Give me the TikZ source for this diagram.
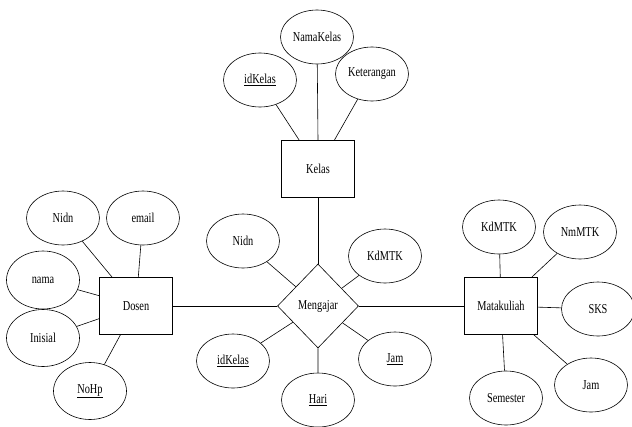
\documentclass[tikz,border=0pt]{standalone}
\usepackage{fontspec}
\setmainfont{Liberation Serif}[FakeStretch=0.76]
\usepackage{tikz}
\usetikzlibrary{shapes.geometric}

\begin{document}
\begin{tikzpicture}[x=1pt, y=-1pt, font=\fontsize{13.6}{15}\selectfont, line width=.6pt,
  entity/.style={draw, minimum width=73pt, minimum height=57pt},
  attrib/.style={draw, ellipse, minimum width=73pt, minimum height=54pt, inner sep=0pt},
  relation/.style={draw, diamond, minimum width=81pt, minimum height=84pt, inner sep=0pt},
]
  \useasboundingbox (0,0) rectangle (632,426);

  \node[entity] (kelas) at (318,169) {Kelas};
  \node[entity] (dosen) at (136,306) {Dosen};
  \node[relation] (mengajar) at (318,306) {Mengajar};
  \node[entity] (matkul) at (501,306) {Matakuliah};

  \node[attrib] (k-id) at (260,80) {\underline{idKelas}};
  \node[attrib] (k-nama) at (317,37) {NamaKelas};
  \node[attrib] (k-ket) at (372,74) {Keterangan};

  \node[attrib] (d-nidn) at (63,218) {Nidn};
  \node[attrib] (d-email) at (143,218) {email};
  \node[attrib, minimum height=58pt] (d-nama) at (43,280) {nama};
  \node[attrib, minimum height=57pt] (d-inisial) at (43,338) {Inisial};
  \node[attrib, minimum height=57pt] (d-nohp) at (90,391) {\underline{NoHp}};

  \node[attrib] (m-nidn) at (243,241) {Nidn};
  \node[attrib] (m-kdmtk) at (385,256) {KdMTK};
  \node[attrib] (m-idkelas) at (233,361) {\underline{idKelas}};
  \node[attrib] (m-jam) at (395,359) {\underline{Jam}};
  \node[attrib] (m-hari) at (318,400) {\underline{Hari}};

  \node[attrib] (t-kdmtk) at (499,227) {KdMTK};
  \node[attrib] (t-nmmtk) at (580,232) {NmMTK};
  \node[attrib] (t-sks) at (598,309) {SKS};
  \node[attrib] (t-jam) at (591,385) {Jam};
  \node[attrib] (t-semester) at (506,398) {Semester};

  \begin{scope}
    \draw
      (dosen) -- (mengajar)
      (mengajar) -- (matkul)
      (kelas) -- (mengajar);
    \draw
      (kelas) -- (k-id)
      (kelas.north) -- (k-nama)
      (kelas) -- (k-ket);
    \draw
      (dosen) -- (d-nidn)
      (dosen) -- (d-email)
      (dosen) -- (d-nama)
      (dosen) -- (d-inisial)
      (dosen) -- (d-nohp);
    \draw
      (mengajar) -- (m-nidn)
      (mengajar) -- (m-kdmtk)
      (mengajar) -- (m-idkelas)
      (mengajar) -- (m-jam)
      (mengajar) -- (m-hari);
    \draw
      (matkul) -- (t-kdmtk)
      (matkul) -- (t-nmmtk)
      (matkul) -- (t-sks)
      (matkul) -- (t-jam)
      (matkul) -- (t-semester);
  \end{scope}
\end{tikzpicture}
\end{document}
